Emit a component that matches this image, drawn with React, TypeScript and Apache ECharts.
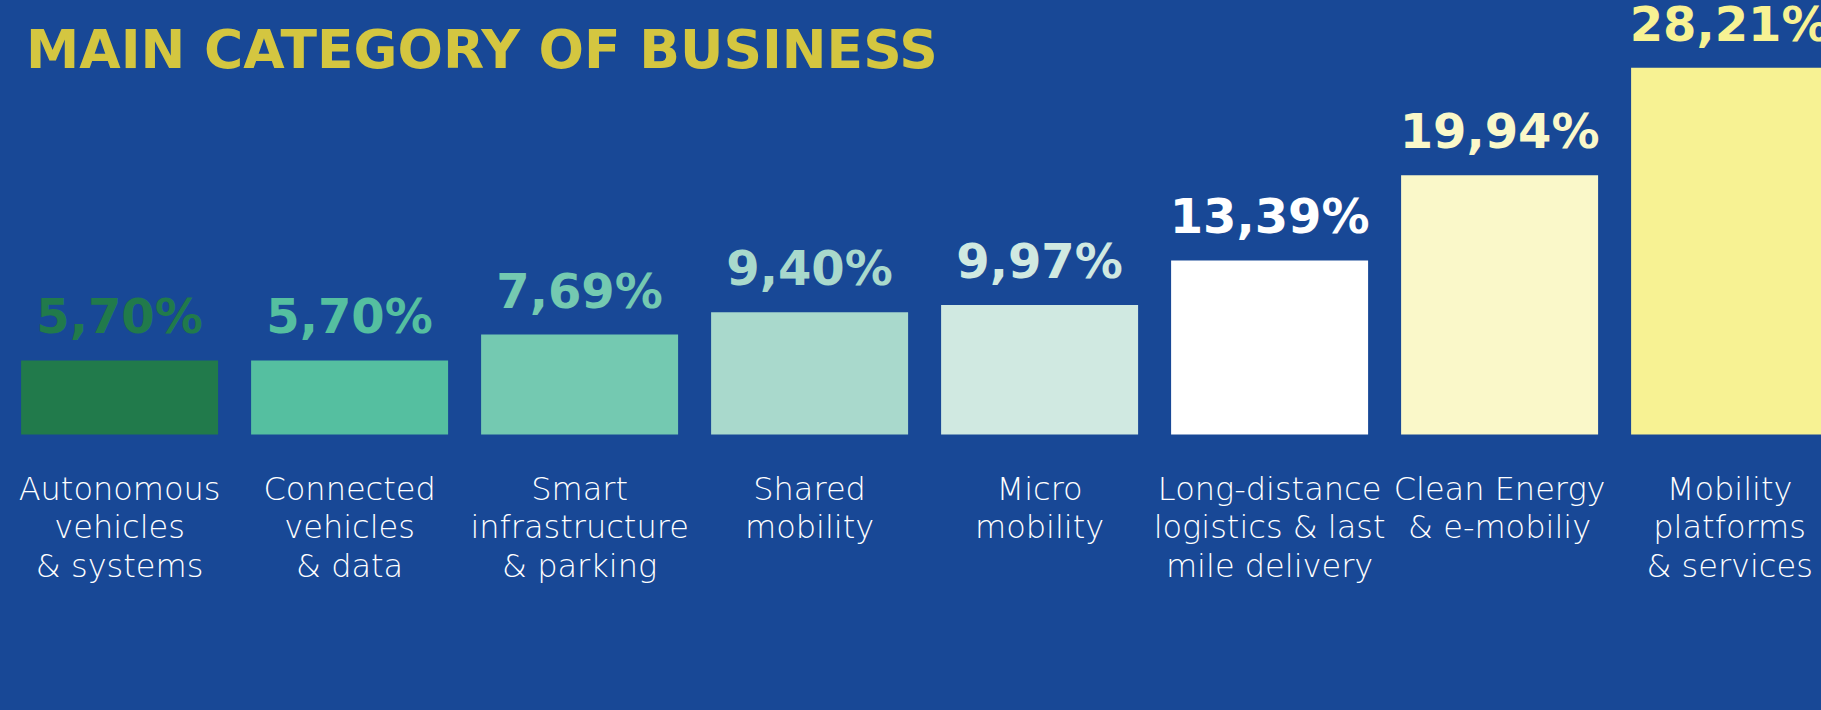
import React, { useEffect, useRef } from "react";
import * as echarts from "echarts";

const TITLE = "MAIN CATEGORY OF BUSINESS";
const categories = [
  "Autonomous\nvehicles\n& systems",
  "Connected\nvehicles\n& data",
  "Smart\ninfrastructure\n& parking",
  "Shared\nmobility",
  "Micro\nmobility",
  "Long-distance\nlogistics & last\nmile delivery",
  "Clean Energy\n& e-mobiliy",
  "Mobility\nplatforms\n& services",
];
const values = [5.7, 5.7, 7.69, 9.4, 9.97, 13.39, 19.94, 28.21];
const barColors = [
  "#217a4b",
  "#55bfa0",
  "#74c9b1",
  "#a9d9cc",
  "#d0e9e1",
  "#ffffff",
  "#faf8c9",
  "#f7f293",
];
const labelColors = [
  "#217a4b",
  "#55bfa0",
  "#74c9b1",
  "#a9d9cc",
  "#d0e9e1",
  "#ffffff",
  "#faf8c9",
  "#f7f293",
];

export default function App() {
  const ref = useRef<HTMLDivElement>(null);
  useEffect(() => {
    if (!ref.current) return;
    const chart = echarts.init(ref.current, undefined, { renderer: "svg" });
    chart.setOption({
      animation: false,
      backgroundColor: "#184896",
      title: {
        text: TITLE,
        left: 26,
        top: 23,
        padding: 0,
        textStyle: {
          color: "#d4c640",
          fontFamily: "DejaVu Sans",
          fontWeight: "bold",
          fontSize: 53.5,
          lineHeight: 53,
        },
      },
      grid: {
        left: 4.6,
        width: 1840,
        top: 44.5,
        height: 390,
        containLabel: false,
        outerBoundsMode: "none",
      },
      xAxis: {
        type: "category",
        data: categories,
        axisLine: { show: false },
        axisTick: { show: false },
        axisLabel: {
          interval: 0,
          margin: 35,
          color: "#ffffff",
          fontFamily: "DejaVu Sans",
          fontWeight: 200,
          fontSize: 32,
          lineHeight: 38.5,
        },
      },
      yAxis: { type: "value", min: 0, max: 30, show: false, splitLine: { show: false } },
      series: [
        {
          type: "bar",
          barWidth: 197,
          data: values.map((v, i) => ({
            value: v,
            itemStyle: { color: barColors[i] },
            label: { color: labelColors[i] },
          })),
          label: {
            show: true,
            position: "top",
            distance: 20,
            fontFamily: "DejaVu Sans",
            fontWeight: "bold",
            fontSize: 48,
            formatter: (p: any) => p.value.toFixed(2).replace(".", ",") + "%",
          },
        },
      ],
    });
    return () => chart.dispose();
  }, []);
  return (
    <div
      ref={ref}
      style={{ position: "absolute", left: 0, top: 0, width: 1821, height: 710 }}
    />
  );
}
